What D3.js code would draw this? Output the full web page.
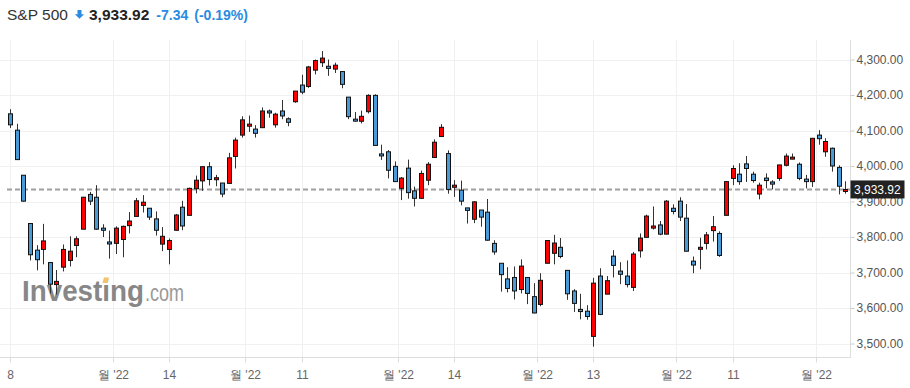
<!DOCTYPE html>
<html>
<head>
<meta charset="utf-8">
<title>S&amp;P 500 daily candles</title>
<script src="https://cdnjs.cloudflare.com/ajax/libs/d3/7.8.5/d3.min.js"></script>
<style>
body { margin: 0; background: #fff; }
svg text { font-family: "Liberation Sans", Arial, sans-serif; }
</style>
</head>
<body>
<svg id="chart" width="910" height="388"></svg>
<script>
// trading days Jun 8 - Dec 7 2022
var dates = [
  "2022-06-08","2022-06-09","2022-06-10","2022-06-13","2022-06-14","2022-06-15","2022-06-16","2022-06-17",
  "2022-06-21","2022-06-22","2022-06-23","2022-06-24","2022-06-27","2022-06-28","2022-06-29","2022-06-30",
  "2022-07-01","2022-07-05","2022-07-06","2022-07-07","2022-07-08","2022-07-11","2022-07-12","2022-07-13",
  "2022-07-14","2022-07-15","2022-07-18","2022-07-19","2022-07-20","2022-07-21","2022-07-22","2022-07-25",
  "2022-07-26","2022-07-27","2022-07-28","2022-07-29","2022-08-01","2022-08-02","2022-08-03","2022-08-04",
  "2022-08-05","2022-08-08","2022-08-09","2022-08-10","2022-08-11","2022-08-12","2022-08-15","2022-08-16",
  "2022-08-17","2022-08-18","2022-08-19","2022-08-22","2022-08-23","2022-08-24","2022-08-25","2022-08-26",
  "2022-08-29","2022-08-30","2022-08-31","2022-09-01","2022-09-02","2022-09-06","2022-09-07","2022-09-08",
  "2022-09-09","2022-09-12","2022-09-13","2022-09-14","2022-09-15","2022-09-16","2022-09-19","2022-09-20",
  "2022-09-21","2022-09-22","2022-09-23","2022-09-26","2022-09-27","2022-09-28","2022-09-29","2022-09-30",
  "2022-10-03","2022-10-04","2022-10-05","2022-10-06","2022-10-07","2022-10-10","2022-10-11","2022-10-12",
  "2022-10-13","2022-10-14","2022-10-17","2022-10-18","2022-10-19","2022-10-20","2022-10-21","2022-10-24",
  "2022-10-25","2022-10-26","2022-10-27","2022-10-28","2022-10-31","2022-11-01","2022-11-02","2022-11-03",
  "2022-11-04","2022-11-07","2022-11-08","2022-11-09","2022-11-10","2022-11-11","2022-11-14","2022-11-15",
  "2022-11-16","2022-11-17","2022-11-18","2022-11-21","2022-11-22","2022-11-23","2022-11-25","2022-11-28",
  "2022-11-29","2022-11-30","2022-12-01","2022-12-02","2022-12-05","2022-12-06","2022-12-07"
];

var opens = [
  4147, 4101, 3974, 3838, 3763, 3765, 3728, 3666, 3715, 3734, 3776, 3822, 3920, 3912, 3825, 3786,
  3782, 3793, 3832, 3858, 3889, 3881, 3851, 3780, 3765, 3819, 3884, 3861, 3936, 3958, 3998, 3964,
  3952, 3951, 4027, 4087, 4112, 4104, 4108, 4155, 4116, 4155, 4133, 4181, 4228, 4224, 4270, 4291,
  4281, 4273, 4266, 4194, 4132, 4126, 4153, 4199, 4034, 4040, 3999, 3937, 3994, 3930, 3909, 3960,
  4024, 4083, 4035, 3940, 3932, 3882, 3850, 3876, 3870, 3782, 3726, 3682, 3686, 3652, 3686, 3632,
  3610, 3726, 3754, 3771, 3706, 3648, 3596, 3591, 3520, 3690, 3639, 3746, 3704, 3690, 3658, 3761,
  3799, 3825, 3834, 3808, 3881, 3901, 3853, 3732, 3766, 3782, 3818, 3810, 3861, 3965, 3977, 4006,
  3977, 3921, 3966, 3955, 3965, 4002, 4021, 4005, 3963, 3956, 4087, 4040, 4050, 3996, 3933.28
];
var highs = [
  4160, 4119, 3974, 3838, 3777, 3837, 3728, 3707, 3779, 3802, 3802, 3913, 3927, 3946, 3836, 3818,
  3830, 3832, 3870, 3910, 3918, 3881, 3872, 3828, 3796, 3865, 3902, 3939, 3973, 3999, 4011, 3975,
  3952, 4037, 4080, 4140, 4142, 4115, 4165, 4159, 4150, 4186, 4137, 4211, 4257, 4282, 4300, 4324,
  4300, 4291, 4266, 4194, 4152, 4156, 4202, 4202, 4060, 4045, 4013, 3969, 4018, 3942, 3987, 4011,
  4075, 4118, 4044, 3960, 3959, 3882, 3901, 3876, 3907, 3791, 3726, 3715, 3717, 3737, 3686, 3670,
  3698, 3791, 3806, 3797, 3706, 3653, 3640, 3608, 3685, 3712, 3690, 3763, 3729, 3734, 3758, 3810,
  3863, 3886, 3845, 3904, 3892, 3912, 3893, 3745, 3798, 3814, 3859, 3816, 3957, 4002, 4008, 4028,
  3984, 3953, 3979, 3960, 4003, 4035, 4035, 4010, 3975, 4079, 4101, 4078, 4052, 4002, 3957
];
var lows = [
  4107, 4017, 3900, 3734, 3706, 3723, 3641, 3638, 3703, 3717, 3743, 3822, 3890, 3820, 3800, 3739,
  3752, 3743, 3810, 3858, 3869, 3848, 3804, 3760, 3723, 3818, 3819, 3861, 3923, 3930, 3945, 3943,
  3912, 3951, 3993, 4080, 4096, 4080, 4108, 4136, 4108, 4132, 4112, 4178, 4202, 4220, 4258, 4279,
  4254, 4262, 4219, 4132, 4125, 4120, 4148, 4058, 4017, 3965, 3955, 3904, 3908, 3886, 3907, 3946,
  4024, 4083, 3922, 3913, 3889, 3838, 3839, 3829, 3790, 3750, 3646, 3644, 3624, 3641, 3611, 3585,
  3605, 3726, 3723, 3740, 3623, 3589, 3568, 3567, 3491, 3580, 3639, 3686, 3667, 3658, 3648, 3742,
  3799, 3821, 3805, 3808, 3864, 3845, 3759, 3698, 3709, 3765, 3787, 3744, 3861, 3946, 3947, 3955,
  3953, 3906, 3937, 3934, 3958, 3999, 4019, 3960, 3937, 3941, 4060, 4026, 3984, 3920, 3922
];
var closes = [
  4116, 4018, 3901, 3750, 3736, 3789, 3667, 3675, 3765, 3760, 3795, 3912, 3901, 3822, 3819, 3785,
  3825, 3830, 3845, 3902, 3898, 3856, 3819, 3802, 3790, 3862, 3831, 3937, 3960, 3998, 3962, 3967,
  3921, 4023, 4073, 4130, 4118, 4092, 4155, 4150, 4146, 4141, 4123, 4211, 4208, 4279, 4297, 4304,
  4275, 4284, 4230, 4139, 4128, 4140, 4199, 4058, 4030, 3988, 3956, 3966, 3925, 3909, 3979, 4005,
  4067, 4109, 3934, 3946, 3901, 3875, 3899, 3856, 3791, 3758, 3694, 3655, 3648, 3718, 3641, 3586,
  3678, 3790, 3783, 3745, 3640, 3613, 3590, 3576, 3670, 3582, 3677, 3720, 3695, 3666, 3752, 3797,
  3859, 3831, 3808, 3901, 3872, 3856, 3760, 3721, 3771, 3806, 3829, 3748, 3956, 3993, 3956, 3993,
  3959, 3946, 3959, 3949, 4003, 4028, 4025, 3965, 3956, 4078, 4077, 4069, 4000, 3943, 3933.92
];

var yTickValues = [3500, 3600, 3700, 3800, 3900, 4000, 4100, 4200, 4300];
var xTickDates = ["2022-06-08","2022-07-01","2022-07-14","2022-08-01","2022-08-11","2022-09-01",
                  "2022-09-14","2022-10-03","2022-10-13","2022-11-01","2022-11-11","2022-12-01"];
var xTickLabels = ["8","월 '22","14","월 '22","11","월 '22","14","월 '22","13","월 '22","11","월 '22"];

var lastPrice = 3933.92;
var change = -7.34;
var changePct = -0.19;

var upColor = "#ff0000", downColor = "#4a9ad8";

var candles = dates.map(function(d, i) {
  return {date: d, open: opens[i], high: highs[i], low: lows[i], close: closes[i]};
});

var svg = d3.select("#chart");
var plotLeft = 0, plotRight = 850.5, plotTop = 40, plotBottom = 357.5;

var x = d3.scalePoint().domain(dates).range([10, 10 + 6.63 * (dates.length - 1)]);
var y = d3.scaleLinear().domain([3500, 4300]).range([343.5, 59.5]);
var step = x.step();
var bodyW = 4.5;

// plain hyphen minus like the site uses
var loc = d3.formatLocale({decimal: ".", thousands: ",", grouping: [3], currency: ["$", ""], minus: "-"});
var fmt = loc.format(",.2f");
var fmt2 = loc.format(".2f");

function tickX(d, i) {
  // month labels sit between sessions, day labels on the session
  var px = x(d);
  if (xTickLabels[i].indexOf("월") >= 0) px -= step / 2;
  return Math.round(px) + 0.5;
}

// grid
svg.append("g").selectAll("line").data(yTickValues).join("line")
  .attr("x1", plotLeft).attr("x2", plotRight)
  .attr("y1", function(d) { return Math.round(y(d)) + 0.5; })
  .attr("y2", function(d) { return Math.round(y(d)) + 0.5; })
  .attr("stroke", "#f0f0f0");

svg.append("g").selectAll("line").data(xTickDates).join("line")
  .attr("x1", tickX).attr("x2", tickX)
  .attr("y1", plotTop).attr("y2", plotBottom)
  .attr("stroke", "#f0f0f0");

// watermark
var wm = svg.append("g");
wm.append("text").attr("x", 22).attr("y", 301)
  .attr("font-size", 29).attr("font-weight", "bold").attr("fill", "#878787")
  .attr("textLength", 122).attr("lengthAdjust", "spacingAndGlyphs")
  .text("Investing");
wm.append("text").attr("x", 145).attr("y", 301)
  .attr("font-size", 23).attr("fill", "#999")
  .attr("textLength", 39).attr("lengthAdjust", "spacingAndGlyphs")
  .text(".com");
wm.append("path").attr("d", "M104,277.5 h5 l-1.5,5.5 h-5 z").attr("fill", "#f7c06a");

// last price dashed line
svg.append("line")
  .attr("x1", 7).attr("x2", plotRight)
  .attr("y1", y(lastPrice)).attr("y2", y(lastPrice))
  .attr("stroke", "#a0a0a0").attr("stroke-width", 2)
  .attr("stroke-dasharray", "5,3");

// candles
var cg = svg.append("g").selectAll("g").data(candles).join("g");
cg.append("line")
  .attr("x1", function(d) { return Math.round(x(d.date)) + 0.5; })
  .attr("x2", function(d) { return Math.round(x(d.date)) + 0.5; })
  .attr("y1", function(d) { return y(d.high); })
  .attr("y2", function(d) { return y(d.low); })
  .attr("stroke", "#333").attr("stroke-width", 1);
cg.append("rect")
  .attr("x", function(d) { return Math.round(x(d.date)) + 0.5 - bodyW / 2 + 0.25; })
  .attr("width", bodyW - 0.5)
  .attr("y", function(d) { return y(Math.max(d.open, d.close)); })
  .attr("height", function(d) { return Math.max(2, Math.abs(y(d.open) - y(d.close))); })
  .attr("fill", function(d) { return d.close >= d.open ? upColor : downColor; })
  .attr("stroke", "#111").attr("stroke-width", 1);

// x axis
svg.append("line").attr("x1", plotLeft).attr("x2", plotRight)
  .attr("y1", plotBottom).attr("y2", plotBottom).attr("stroke", "#ddd");
var xt = svg.append("g").selectAll("g").data(xTickDates).join("g")
  .attr("transform", function(d, i) { return "translate(" + tickX(d, i) + "," + plotBottom + ")"; });
xt.append("line").attr("y1", 0).attr("y2", 5).attr("stroke", "#ddd");
xt.append("text").attr("y", 21).attr("text-anchor", "middle")
  .attr("font-size", 12).attr("fill", "#666")
  .text(function(d, i) { return xTickLabels[i]; });

// y axis on the right
var yAxis = d3.axisRight(y).tickValues(yTickValues).tickFormat(fmt).tickSize(4).tickPadding(2);
var ya = svg.append("g").attr("transform", "translate(" + plotRight + ",0)").call(yAxis);
ya.select(".domain").attr("d", "M0," + plotTop + "V" + plotBottom).attr("stroke", "#ddd");
ya.selectAll(".tick line").attr("stroke", "#ccc");
ya.selectAll(".tick text").attr("font-size", 12).attr("fill", "#555")
  .attr("font-family", "'Liberation Sans', Arial, sans-serif");

// last price tag (sits over the 3,900 label like the original)
svg.append("rect").attr("x", plotRight).attr("y", y(lastPrice) - 9)
  .attr("width", 54).attr("height", 18).attr("fill", "#222");
svg.append("text").attr("x", 854).attr("y", y(lastPrice) + 4.5)
  .attr("font-size", 12).attr("fill", "#fff").text(fmt(lastPrice));

// header
var head = svg.append("text").attr("x", 7).attr("y", 20).attr("font-size", 15.5).attr("fill", "#333");
head.append("tspan").text("S&P 500");
svg.append("path").attr("d", "M77.5,10 h4 v4.2 h2.6 l-4.6,4.6 l-4.6,-4.6 h2.6 z").attr("fill", "#2a8be0");
var head2 = svg.append("text").attr("x", 89).attr("y", 20);
head2.append("tspan").attr("font-size", 15.5).attr("font-weight", "bold").attr("fill", "#222").text(fmt(lastPrice));
head2.append("tspan").attr("dx", 7).attr("font-size", 14).attr("font-weight", "bold").attr("fill", "#2a8be0")
  .text(fmt2(change));
head2.append("tspan").attr("dx", 6).attr("font-size", 14).attr("font-weight", "bold").attr("fill", "#2a8be0")
  .text("(" + fmt2(changePct) + "%)");
</script>
</body>
</html>
